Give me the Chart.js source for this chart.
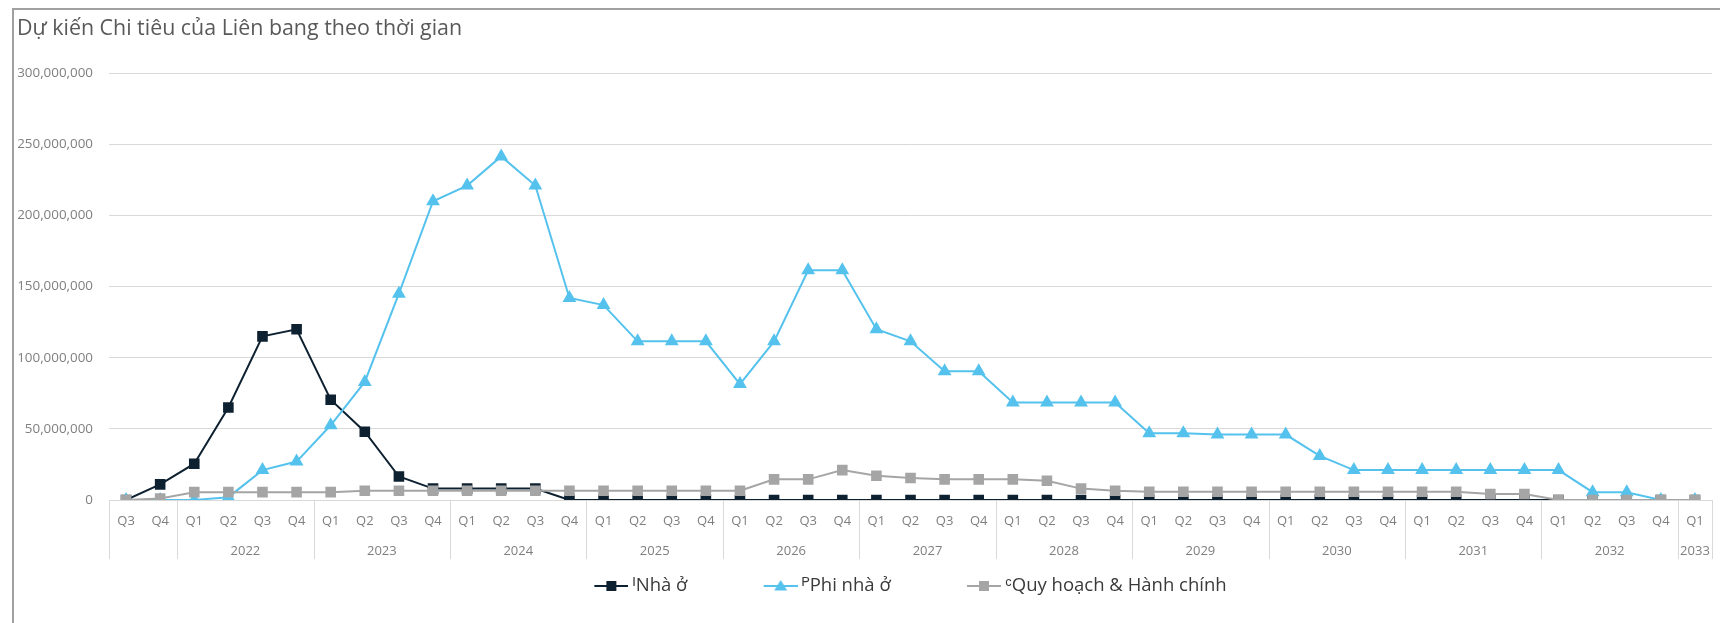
<!DOCTYPE html>
<html>
<head>
<meta charset="utf-8">
<script src="https://cdn.jsdelivr.net/npm/chart.js@4.4.1/dist/chart.umd.min.js"></script>
<style>
  html, body { margin: 0; padding: 0; background: #fff; overflow: hidden; }
  #frame { position: absolute; left: 12px; top: 8px; width: 1720px; height: 640px; border: 2px solid #a0a0a0; box-sizing: border-box; }
  #wrap { position: absolute; left: 0; top: 0; width: 1720px; height: 623px; }
</style>
</head>
<body>
<div id="frame"></div>
<div id="wrap"><canvas id="chart"></canvas></div>
<script>
// quarters from 2021 Q3 to 2033 Q1
const quarters = [
  'Q3', 'Q4',
  'Q1', 'Q2', 'Q3', 'Q4',  'Q1', 'Q2', 'Q3', 'Q4',  'Q1', 'Q2', 'Q3', 'Q4',
  'Q1', 'Q2', 'Q3', 'Q4',  'Q1', 'Q2', 'Q3', 'Q4',  'Q1', 'Q2', 'Q3', 'Q4',
  'Q1', 'Q2', 'Q3', 'Q4',  'Q1', 'Q2', 'Q3', 'Q4',  'Q1', 'Q2', 'Q3', 'Q4',
  'Q1', 'Q2', 'Q3', 'Q4',  'Q1', 'Q2', 'Q3', 'Q4',
  'Q1'
];
const yearLabels = ['', '2022', '2023', '2024', '2025', '2026', '2027', '2028', '2029', '2030', '2031', '2032', '2033'];
const yearSpans = [2, 4, 4, 4, 4, 4, 4, 4, 4, 4, 4, 4, 1];

const nhaO = [
  0, 11000000,
  25500000, 65000000, 115000000, 120000000,
  70500000, 48000000, 16500000, 8000000,
  8000000, 8000000, 8000000, 0,
  0, 0, 0, 0,  0, 0, 0, 0,  0, 0, 0, 0,  0, 0, 0, 0,
  0, 0, 0, 0,  0, 0, 0, 0,  0, 0, 0, 0,  0, 0, 0, 0,
  0
];
const phiNhaO = [
  0, 0,
  0, 2000000, 21000000, 27000000,
  52500000, 83000000, 145000000, 210000000,
  221000000, 241500000, 221000000, 142000000,
  137000000, 111500000, 111500000, 111500000,
  81500000, 111500000, 161500000, 161500000,
  120000000, 111500000, 90500000, 90500000,
  68500000, 68500000, 68500000, 68500000,
  47000000, 47000000, 46000000, 46000000,
  46000000, 31000000, 21000000, 21000000,
  21000000, 21000000, 21000000, 21000000,
  21000000, 5500000, 5500000, 0,
  0
];
const quyHoach = [
  0, 1000000,
  5500000, 5500000, 5500000, 5500000,
  5500000, 6500000, 6500000, 6500000,
  6500000, 6500000, 6500000, 6500000,
  6500000, 6500000, 6500000, 6500000,
  6500000, 14500000, 14500000, 21000000,
  17000000, 15500000, 14500000, 14500000,
  14500000, 13500000, 8000000, 6500000,
  5800000, 5800000, 5800000, 5800000,
  5800000, 5800000, 5800000, 5800000,
  5800000, 5800000, 4200000, 4200000,
  0, 0, 0, 0,
  0
];

const legendNames = ['ᴵNhà ở', 'ᴾPhi nhà ở', 'ᶜQuy hoạch & Hành chính'];
const colors = ['#0e2131', '#55c2ee', '#a5a5a5'];
const styles = ['rect', 'triangle', 'rect'];
const radii = [7.5, 8, 7.5];

// year group centres and boundaries on the quarter index scale
const yearCenters = [];
const yearBounds = [0];
yearSpans.forEach(function (n) {
  const start = yearBounds[yearBounds.length - 1];
  yearCenters.push(start + (n - 1) / 2);
  yearBounds.push(start + n);
});

// legend symbol: short line with the marker (Excel style)
const BOX_W = 29;
const SYM_W = 34;
function legendSymbol(color, style) {
  const w = BOX_W + 10, h = 18;
  const c = document.createElement('canvas');
  c.width = w; c.height = h;
  const g = c.getContext('2d');
  g.strokeStyle = color;
  g.lineWidth = 2;
  g.beginPath();
  g.moveTo(w - SYM_W, h / 2);
  g.lineTo(w, h / 2);
  g.stroke();
  g.fillStyle = color;
  const cx = w - SYM_W / 2, cy = h / 2;
  if (style === 'triangle') {
    g.beginPath();
    g.moveTo(cx, cy - 6);
    g.lineTo(cx + 6.5, cy + 4.5);
    g.lineTo(cx - 6.5, cy + 4.5);
    g.closePath();
    g.fill();
  } else {
    g.fillRect(cx - 5, cy - 5, 10, 10);
  }
  return c;
}
const symbols = colors.map(function (c, i) { return legendSymbol(c, styles[i]); });
const legendGap = '\u2003\u2003\u2003 ';

const separators = {
  id: 'separators',
  afterDraw(chart) {
    const x = chart.scales.x, x2 = chart.scales.x2;
    const ctx = chart.ctx;
    ctx.save();
    ctx.strokeStyle = '#d9d9d9';
    ctx.lineWidth = 1;
    yearBounds.forEach(function (b) {
      const px = Math.round(x.getPixelForValue(b - 0.5)) + 0.5;
      ctx.beginPath();
      ctx.moveTo(px, chart.chartArea.bottom);
      ctx.lineTo(px, x2.top + 23);
      ctx.stroke();
    });
    ctx.restore();
  }
};

function series(label, data, i, order) {
  return {
    label: label,
    data: data,
    borderColor: colors[i],
    backgroundColor: colors[i],
    borderWidth: 2,
    pointStyle: styles[i],
    pointRadius: radii[i],
    pointBorderWidth: 0,
    tension: 0,
    order: order
  };
}

const tickFont = { family: '"Open Sans", sans-serif', size: 13 };

new Chart(document.getElementById('chart'), {
  type: 'line',
  data: {
    labels: quarters,
    datasets: [
      series(legendNames[0], nhaO, 0, 3),
      series(legendNames[1], phiNhaO, 1, 2),
      series(legendNames[2], quyHoach, 2, 1)
    ]
  },
  options: {
    responsive: true,
    maintainAspectRatio: false,
    animation: false,
    layout: { padding: { left: 17, right: 8, top: 0, bottom: 17.75 } },
    plugins: {
      title: {
        display: true,
        text: 'Dự kiến Chi tiêu của Liên bang theo thời gian',
        align: 'start',
        color: '#595959',
        font: { family: '"Open Sans", sans-serif', size: 21.4, weight: 'normal' },
        padding: { top: 16.5, bottom: 31 }
      },
      legend: {
        position: 'bottom',
        fullSize: false,
        labels: {
          usePointStyle: true,
          pointStyleWidth: BOX_W,
          padding: 16,
          color: '#3a3a3a',
          font: { family: '"Open Sans", sans-serif', size: 18.5 },
          generateLabels: function (chart) {
            const n = chart.data.datasets.length;
            return chart.data.datasets.map(function (ds, i) {
              return {
                text: i < n - 1 ? ds.label + legendGap : ds.label,
                pointStyle: symbols[i],
                fillStyle: colors[i],
                strokeStyle: colors[i],
                lineWidth: 0,
                fontColor: '#3a3a3a',
                hidden: !chart.isDatasetVisible(i),
                datasetIndex: i
              };
            });
          }
        }
      },
      tooltip: { enabled: false }
    },
    scales: {
      y: {
        min: 0,
        max: 300000000,
        afterFit: function (s) { s.width = 92; },
        border: { display: false },
        grid: { color: '#d9d9d9', drawTicks: false },
        ticks: {
          stepSize: 50000000,
          padding: 16,
          color: '#7f7f7f',
          font: { family: '"Open Sans", sans-serif', size: 13.4 },
          callback: function (v) { return v.toLocaleString('en-US'); }
        }
      },
      x: {
        offset: true,
        afterFit: function (s) { s.height = 36; },
        border: { display: false },
        grid: { display: false, drawTicks: false },
        ticks: {
          autoSkip: false,
          maxRotation: 0,
          padding: 13,
          color: '#7f7f7f',
          font: tickFont
        }
      },
      x2: {
        type: 'linear',
        position: 'bottom',
        min: -0.5,
        max: quarters.length - 0.5,
        afterFit: function (s) { s.height = 24.75; },
        afterBuildTicks: function (s) {
          s.ticks = yearCenters.map(function (v) { return { value: v }; });
        },
        border: { display: false },
        grid: { display: false, drawTicks: false },
        ticks: {
          autoSkip: false,
          maxRotation: 0,
          padding: 7,
          color: '#7f7f7f',
          font: tickFont,
          callback: function (v, i) { return yearLabels[i]; }
        }
      }
    }
  },
  plugins: [separators]
});
</script>
</body>
</html>
